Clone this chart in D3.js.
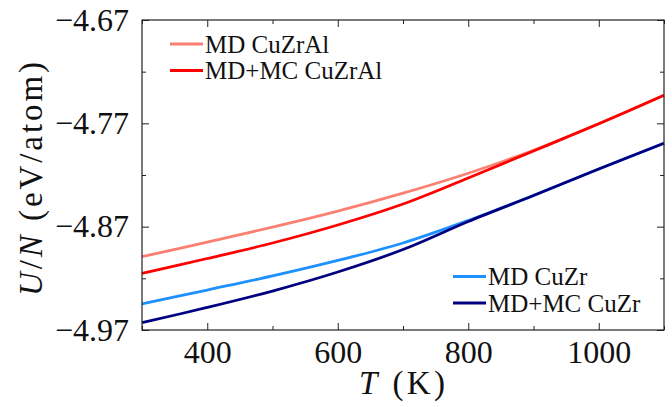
<!DOCTYPE html>
<html>
<head>
<meta charset="utf-8">
<script src="https://cdn.jsdelivr.net/npm/d3@7"></script>
<style>
  svg text, svg tspan { font-family: "Liberation Serif", "Times New Roman", serif !important; }
</style>
</head>
<body style="margin:0">
<svg id="chart" width="672" height="407" font-family="Liberation Serif"></svg>
<script>
const temps = [300, 400, 500, 600, 700, 800, 900, 1000, 1100];
const mdCuZrAl = [-4.8991, -4.8850, -4.8705, -4.8550, -4.8376, -4.8183, -4.7960, -4.7704, -4.7428];
const mcCuZrAl = [-4.9151, -4.9008, -4.8858, -4.8684, -4.8481, -4.8229, -4.7968, -4.7704, -4.7428];
const mdCuZr   = [-4.9448, -4.9313, -4.9177, -4.9027, -4.8858, -4.8640, -4.8398, -4.8142, -4.7893];
const mcCuZr   = [-4.9629, -4.9482, -4.9323, -4.9139, -4.8921, -4.8650, -4.8398, -4.8142, -4.7893];
const seriesNames = ["MD CuZrAl", "MD+MC CuZrAl", "MD CuZr", "MD+MC CuZr"];
const seriesColors = ["#fa8072", "#ff0000", "#1e90ff", "#000080"];
const xMajorTicks = [400, 600, 800, 1000];
const xMinorTicks = [300, 500, 700, 900, 1100];
const yMajorTicks = [-4.67, -4.77, -4.87, -4.97];
const yMinorTicks = [-4.72, -4.82, -4.92];

const seriesValues = [mdCuZrAl, mcCuZrAl, mdCuZr, mcCuZr];
const FONT = "Liberation Serif";

const svg = d3.select("#chart");
const m = {left: 142, top: 20, right: 672 - 664, bottom: 407 - 330};
const W = 672 - m.left - m.right, H = 407 - m.top - m.bottom;

const x = d3.scaleLinear().domain([300, 1100]).range([m.left, m.left + W]);
const y = d3.scaleLinear().domain([-4.97, -4.67]).range([m.top + H, m.top]);

const line = d3.line().x(d => x(d[0])).y(d => y(d[1])).curve(d3.curveCatmullRom.alpha(0.5));
const g = svg.append("g");
seriesValues.forEach((vals, i) => {
  g.append("path")
    .datum(temps.map((t, j) => [t, vals[j]]))
    .attr("d", line)
    .attr("fill", "none")
    .attr("stroke", seriesColors[i])
    .attr("stroke-width", 2.8)
    .attr("stroke-linejoin", "round");
});

const fmt = v => "\u2212" + Math.abs(v).toFixed(2);

function mk(axis, tr, vals, size, labels, pad) {
  const a = svg.append("g").attr("transform", tr)
    .call(axis.tickValues(vals).tickSizeInner(-size).tickSizeOuter(0).tickPadding(pad || 3).tickFormat(labels || ""));
  a.attr("font-family", FONT).attr("font-size", 32);
  a.select(".domain").remove();
  a.selectAll("line").attr("stroke", "#222").attr("stroke-width", 1);
  a.selectAll("text").attr("font-family", FONT).attr("font-size", 32).attr("fill", "#111");
  return a;
}
mk(d3.axisBottom(x), `translate(0,${m.top + H})`, xMajorTicks, 7, d3.format("d"), 10);
mk(d3.axisBottom(x), `translate(0,${m.top + H})`, xMinorTicks, 4);
mk(d3.axisTop(x), `translate(0,${m.top})`, xMajorTicks, 7);
mk(d3.axisTop(x), `translate(0,${m.top})`, xMinorTicks, 4);
mk(d3.axisLeft(y), `translate(${m.left},0)`, yMajorTicks, 7, fmt, 13);
mk(d3.axisLeft(y), `translate(${m.left},0)`, yMinorTicks, 4);
mk(d3.axisRight(y), `translate(${m.left + W},0)`, yMajorTicks, 7);
mk(d3.axisRight(y), `translate(${m.left + W},0)`, yMinorTicks, 4);

svg.append("rect").attr("x", m.left).attr("y", m.top).attr("width", W).attr("height", H)
  .attr("fill", "none").attr("stroke", "#222").attr("stroke-width", 1.2);

// axis labels
const xl = svg.append("text").attr("x", 402).attr("y", 394).attr("text-anchor", "middle")
  .attr("font-family", FONT).attr("font-size", 33).attr("fill", "#111")
  .attr("textLength", 86).attr("lengthAdjust", "spacing");
xl.append("tspan").attr("font-style", "italic").text("T");
xl.append("tspan").text("\u00a0(K)");

const yl = svg.append("text").attr("transform", "translate(42,179) rotate(-90)")
  .attr("text-anchor", "middle")
  .attr("font-family", FONT).attr("font-size", 33).attr("fill", "#111")
  .attr("textLength", 234).attr("lengthAdjust", "spacing");
yl.append("tspan").attr("font-style", "italic").text("U");
yl.append("tspan").text("/");
yl.append("tspan").attr("font-style", "italic").text("N");
yl.append("tspan").text("\u00a0(eV/atom)");

// legends
function legend(x0, y0, idxs) {
  idxs.forEach((i, k) => {
    const yy = y0 + k * 26.5;
    svg.append("line").attr("x1", x0).attr("x2", x0 + 33).attr("y1", yy).attr("y2", yy)
      .attr("stroke", seriesColors[i]).attr("stroke-width", 2.8);
    svg.append("text").attr("x", x0 + 35).attr("y", yy).attr("dy", "0.35em")
      .attr("font-family", FONT).attr("font-size", 25).attr("fill", "#111")
      .text(seriesNames[i]);
  });
}
legend(170, 44, [0, 1]);
legend(453, 276.5, [2, 3]);
</script>
</body>
</html>
